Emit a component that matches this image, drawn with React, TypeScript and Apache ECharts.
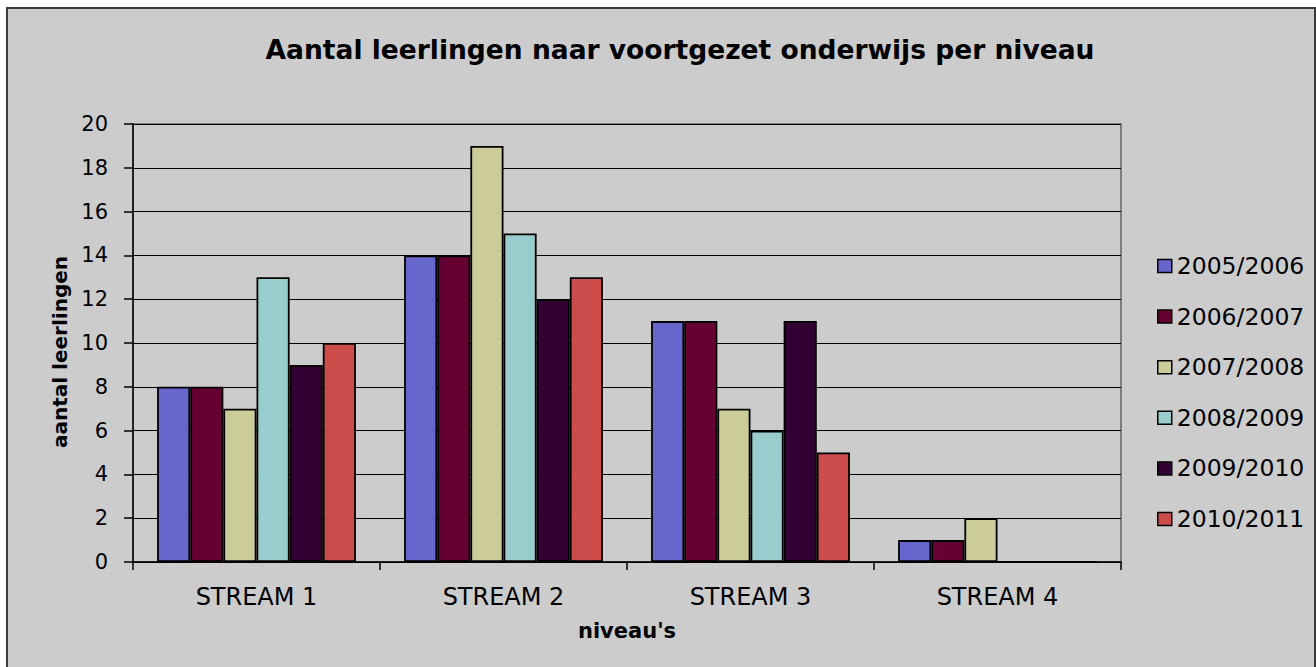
import React, { useEffect, useRef } from "react";
import * as echarts from "echarts";

const categories = ["STREAM 1", "STREAM 2", "STREAM 3", "STREAM 4"];
const seriesNames = ["2005/2006", "2006/2007", "2007/2008", "2008/2009", "2009/2010", "2010/2011"];
const s2005 = [8, 14, 11, 1];
const s2006 = [8, 14, 11, 1];
const s2007 = [7, 19, 7, 2];
const s2008 = [13, 15, 6, 0];
const s2009 = [9, 12, 11, 0];
const s2010 = [10, 13, 5, 0];
const seriesValues = [s2005, s2006, s2007, s2008, s2009, s2010];
const colors = ["#6666CC", "#660033", "#CCCC99", "#99CCCC", "#330033", "#CC4C4C"];
const yTicks = { min: 0, max: 20, interval: 2 };

const FONT = "DejaVu Sans";

export default function App() {
  const ref = useRef<HTMLDivElement>(null);
  useEffect(() => {
    if (!ref.current) return;
    const chart = echarts.init(ref.current, null, { renderer: "svg" });
    chart.setOption({
      animation: false,
      backgroundColor: "#ffffff",
      color: colors,
      title: {
        text: "Aantal leerlingen naar voortgezet onderwijs per niveau",
        left: 675,
        top: 31,
        textAlign: "center",
        textStyle: { fontFamily: FONT, fontSize: 26.5, fontWeight: "bold", color: "#000" },
      },
      graphic: [
        {
          type: "rect",
          z: -100,
          silent: true,
          shape: { x: 7, y: 8, width: 1308, height: 700 },
          style: { fill: "#CCCCCC", stroke: "#3a3a3a", lineWidth: 2 },
        },
      ],
      grid: {
        left: 133,
        top: 124,
        right: 195,
        bottom: 105,
        show: true,
        backgroundColor: "transparent",
        borderColor: "#666666",
        borderWidth: 1.5,
        containLabel: false,
      },
      legend: {
        orient: "vertical",
        left: 1152,
        top: 248,
        itemWidth: 14,
        itemHeight: 13,
        itemGap: 24.6,
        icon: "rect",
        itemStyle: { borderColor: "#000", borderWidth: 1.5 },
        textStyle: { fontFamily: FONT, fontSize: 23.5, lineHeight: 26, color: "#000" },
        data: seriesNames,
      },
      xAxis: {
        type: "category",
        data: categories,
        name: "niveau's",
        nameLocation: "middle",
        nameGap: 58,
        nameTextStyle: { fontFamily: FONT, fontSize: 21, fontWeight: "bold", color: "#000" },
        axisLine: { lineStyle: { color: "#000", width: 1.5 } },
        axisTick: { show: true, length: 8, inside: false, lineStyle: { color: "#000", width: 1.5 } },
        axisLabel: { fontFamily: FONT, fontSize: 24, color: "#000", margin: 23 },
        splitLine: { show: false },
      },
      yAxis: {
        type: "value",
        min: yTicks.min,
        max: yTicks.max,
        interval: yTicks.interval,
        name: "aantal leerlingen",
        nameLocation: "middle",
        nameGap: 63,
        nameRotate: 90,
        nameTextStyle: {
          fontFamily: FONT,
          fontSize: 20,
          fontWeight: "bold",
          color: "#000",
          padding: [0, 18, 0, 0],
        },
        axisLine: { show: true, lineStyle: { color: "#000", width: 1.5 } },
        axisTick: { show: true, length: 9, inside: false, lineStyle: { color: "#000", width: 1.5 } },
        axisLabel: { fontFamily: FONT, fontSize: 21, color: "#000", margin: 25 },
        splitLine: { show: true, lineStyle: { color: "#000", width: 1.2 } },
      },
      series: seriesNames.map((name, i) => ({
        name,
        type: "bar",
        data: seriesValues[i],
        barGap: "0%",
        barCategoryGap: "19.5%",
        itemStyle: { color: colors[i], borderColor: "#000", borderWidth: 1.8 },
      })),
    });
    return () => chart.dispose();
  }, []);
  return (
    <div
      ref={ref}
      style={{ position: "absolute", left: 0, top: 0, width: 1316, height: 667 }}
    />
  );
}
